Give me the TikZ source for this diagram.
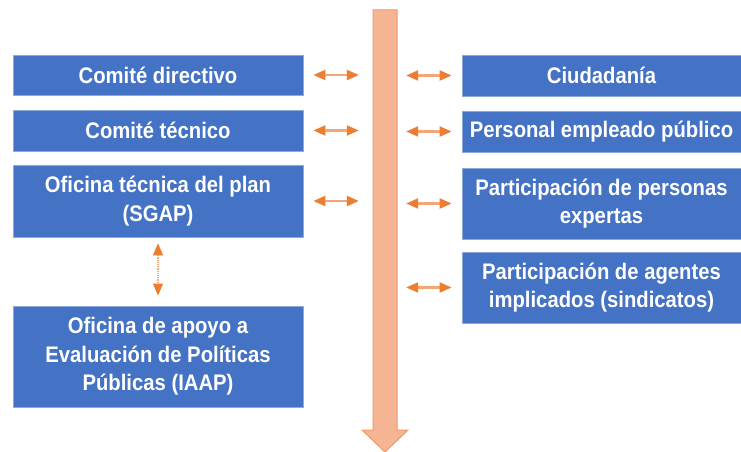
\documentclass[tikz,border=0pt]{standalone}
\usepackage{fontspec}
\newfontfamily\boxfont[FakeStretch=0.9]{Liberation Sans}
\usetikzlibrary{arrows.meta}
\definecolor{boxblue}{HTML}{4472C4}
\definecolor{boxedge}{HTML}{8EA9DB}
\definecolor{spinefill}{HTML}{F5B595}
\definecolor{spineedge}{HTML}{F09A60}
\definecolor{linkorange}{HTML}{ED7D31}
\definecolor{linklight}{HTML}{F4A774}

\tikzset{
  organ/.style={draw=boxedge, line width=0.8pt, fill=boxblue, text=white,
    font=\boxfont\bfseries\fontsize{22.5}{28.5}\selectfont, align=center,
    inner sep=0pt, minimum width=290pt},
  actor/.style={organ, minimum width=279pt},
  link/.style={draw=linklight, line width=2.2pt,
    {Triangle[length=12pt,width=10pt,color=linkorange,fill=linkorange]}-{Triangle[length=12pt,width=10pt,color=linkorange,fill=linkorange]}},
}

\begin{document}
\begin{tikzpicture}[x=1pt,y=-1pt]
			%%%%% START %%%%%
			\useasboundingbox (0,0) rectangle (741,452);
			
			% vertical axis
			\draw[fill=spinefill, draw=spineedge, line width=1pt]
			  (373,10) -- (397,10) -- (397,430) -- (408,430) -- (385,452)
			  -- (362,430) -- (373,430) -- cycle;
			\node[inner sep=0pt, minimum width=24pt, minimum height=420pt] (spine) at (385,220) {};
			
			% left side
			\node[organ, minimum height=40pt] (dir) at (158,75) {Comité directivo};
			\node[organ, minimum height=41pt] (tec) at (158,130.5) {Comité técnico};
			\node[organ, minimum height=72pt] (ofi) at (158,201) {Oficina técnica del plan\\(SGAP)};
			\node[organ, minimum height=101pt] (iaap) at (158,356.5) {Oficina de apoyo a\\Evaluación de Políticas\\Públicas (IAAP)};
			
			% right side
			\node[actor, minimum height=41pt] (ciu) at (601.5,75.5) {Ciudadanía};
			\node[actor, minimum height=41pt] (emp) at (601.5,131.5) {Personal empleado público};
			\node[actor, minimum height=71pt] (exp) at (601.5,203.5) {Participación de personas\\expertas};
			\node[actor, minimum height=71pt] (sin) at (601.5,287.5) {Participación de agentes\\implicados (sindicatos)};
			
			% connectors
			\draw[link, shorten <=10pt, shorten >=14pt] (dir.east) -- (dir.east -| spine.west);
			\draw[link, shorten <=10pt, shorten >=14pt] (tec.east) -- (tec.east -| spine.west);
			\draw[link, shorten <=10pt, shorten >=14pt] (ofi.east) -- (ofi.east -| spine.west);
			
			\draw[link, shorten <=9pt, shorten >=10pt] (ciu.west -| spine.east) -- (ciu.west);
			\draw[link, shorten <=9pt, shorten >=10pt] (emp.west -| spine.east) -- (emp.west);
			\draw[link, shorten <=9pt, shorten >=10pt] (exp.west -| spine.east) -- (exp.west);
			\draw[link, shorten <=9pt, shorten >=10pt] (sin.west -| spine.east) -- (sin.west);
			
			\draw[link, line width=1.2pt, densely dotted, shorten <=6pt, shorten >=10pt] (ofi.south) -- (iaap.north);
			%%%%% END %%%%%
		\end{tikzpicture}
\end{document}
